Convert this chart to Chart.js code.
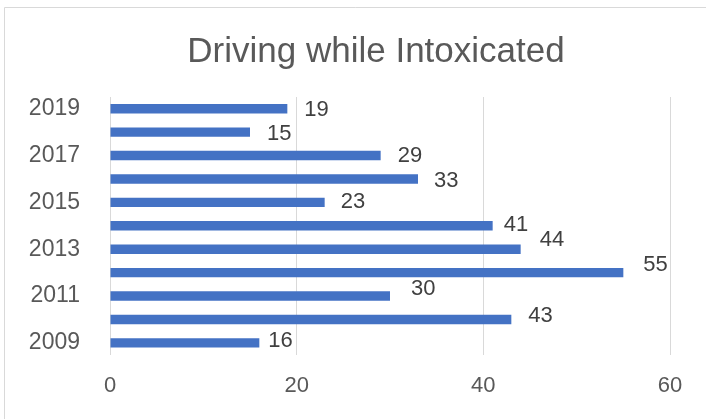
<!DOCTYPE html>
<html>
<head>
<meta charset="utf-8">
<script src="https://cdn.jsdelivr.net/npm/chart.js@4"></script>
<style>
  html, body { margin: 0; padding: 0; background: #ffffff; }
  #wrap { position: relative; width: 706px; height: 419px; }
</style>
</head>
<body>
<div id="wrap"><canvas id="chart" width="706" height="419"></canvas></div>
<script>
// Yearly DWI counts, 2009 through 2019
const years = ['2009', '2010', '2011', '2012', '2013', '2014', '2015', '2016', '2017', '2018', '2019'];
const counts = [16, 43, 30, 55, 44, 41, 23, 33, 29, 15, 19];
const xTicks = [0, 20, 40, 60];
const chartTitle = 'Driving while Intoxicated';

// Hand-placed value labels: [dx, dy] offset from each bar's end
const labelShift = [[9, -2], [17, -4], [21, -7], [20, -8], [19, -9], [11, -1], [16, 0], [16, 2], [17, 0], [17, 2], [17, 1]];

const FONT = "'Liberation Sans', Arial, sans-serif";

const valueLabels = {
  id: 'valueLabels',
  afterDatasetsDraw(chart) {
    const ctx = chart.ctx;
    const meta = chart.getDatasetMeta(0);
    ctx.save();
    ctx.font = '22px ' + FONT;
    ctx.fillStyle = '#404040';
    ctx.textAlign = 'left';
    ctx.textBaseline = 'middle';
    meta.data.forEach((bar, i) => {
      const [dx, dy] = labelShift[i];
      ctx.fillText(String(counts[i]), bar.x + dx, bar.y + dy);
    });
    ctx.restore();
  }
};

// Outer chart frame plus the heading
const frameAndTitle = {
  id: 'frameAndTitle',
  beforeDraw(chart) {
    const ctx = chart.ctx;
    ctx.save();
    ctx.strokeStyle = '#d9d9d9';
    ctx.lineWidth = 1;
    ctx.beginPath();
    ctx.moveTo(4.5, chart.height);
    ctx.lineTo(4.5, 7.5);
    ctx.lineTo(chart.width, 7.5);
    ctx.stroke();
    ctx.font = '35px ' + FONT;
    ctx.fillStyle = '#595959';
    ctx.textAlign = 'center';
    ctx.textBaseline = 'middle';
    ctx.fillText(chartTitle, 376, 52);
    ctx.restore();
  }
};

new Chart(document.getElementById('chart'), {
  type: 'bar',
  data: {
    labels: years,
    datasets: [{
      data: counts,
      backgroundColor: '#4472C4',
      borderWidth: 0,
      categoryPercentage: 1,
      barPercentage: 0.4
    }]
  },
  options: {
    indexAxis: 'y',
    responsive: false,
    animation: false,
    layout: { padding: { left: 10, right: 36, top: 97, bottom: 2 } },
    plugins: {
      legend: { display: false },
      tooltip: { enabled: false },
      title: { display: false }
    },
    scales: {
      x: {
        min: 0,
        max: 60,
        afterBuildTicks(scale) { scale.ticks = xTicks.map(v => ({ value: v })); },
        grid: { color: '#d9d9d9', lineWidth: 1, drawTicks: false },
        border: { display: false },
        ticks: {
          color: '#595959',
          font: { family: FONT, size: 22 },
          padding: 18
        }
      },
      y: {
        reverse: true,
        grid: { display: false },
        border: { display: false },
        afterFit(scale) { scale.width = 100; },
        ticks: {
          autoSkip: false,
          color: '#595959',
          font: { family: FONT, size: 23 },
          padding: 22,
          callback: (v, i) => (i % 2 === 0 ? years[i] : '')
        }
      }
    }
  },
  plugins: [frameAndTitle, valueLabels]
});
</script>
</body>
</html>
